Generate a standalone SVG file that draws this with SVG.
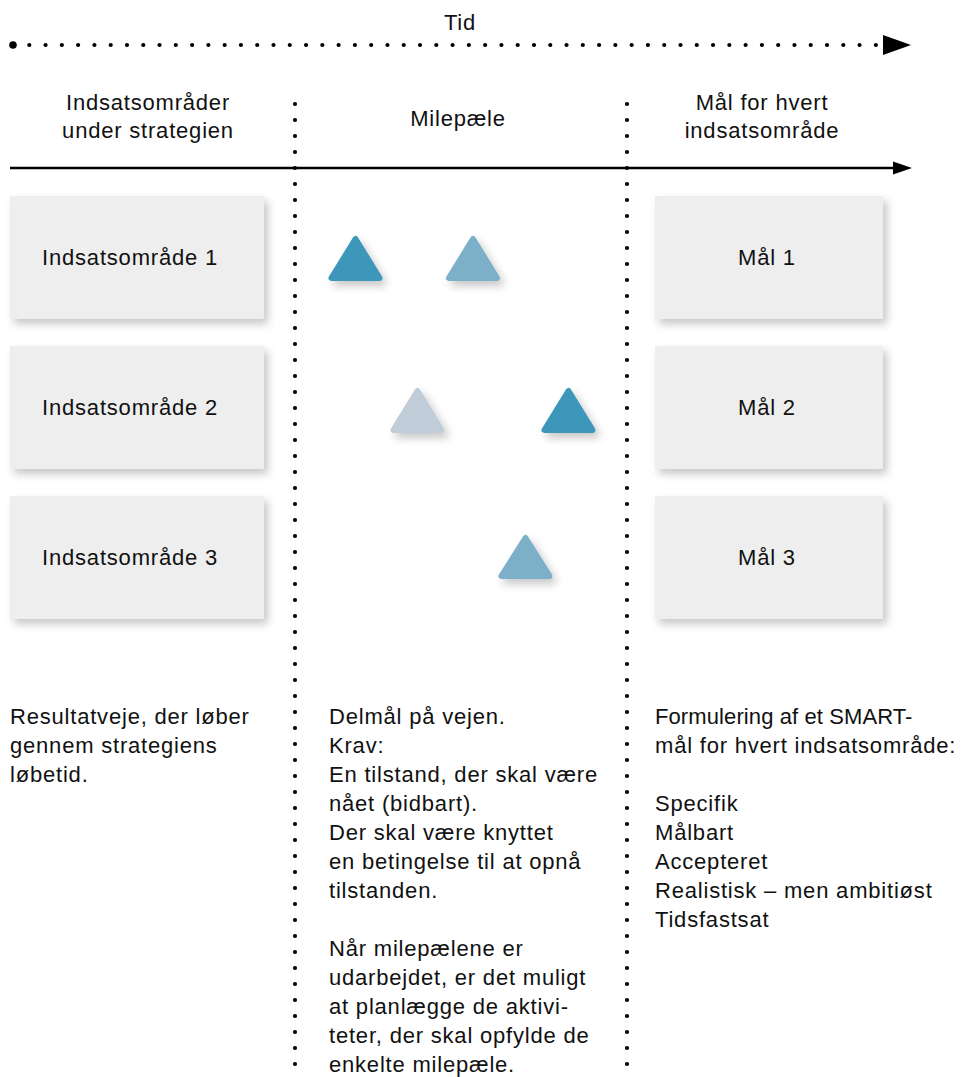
<svg xmlns="http://www.w3.org/2000/svg" width="966" height="1077" viewBox="0 0 966 1077">
<style>
text{font-family:"Liberation Sans",Arial,Helvetica,sans-serif;font-size:22px;fill:#111;letter-spacing:0.8px}
.c{text-anchor:middle}
.box{fill:#eeeeee}
.dots{stroke:#000;stroke-width:4.2;stroke-linecap:round;fill:none}
.tri{stroke-linejoin:round;stroke-width:6}
.t1{fill:#3d97ba;stroke:#3d97ba}
.t2{fill:#7bb0c8;stroke:#7bb0c8}
.t3{fill:#c1ccd9;stroke:#c1ccd9}
</style>
<defs>
<filter id="sh" x="-20%" y="-20%" width="150%" height="160%">
<feDropShadow dx="4" dy="5" stdDeviation="4" flood-color="#000" flood-opacity="0.22"/>
</filter>
</defs>
<rect width="966" height="1077" fill="#fff"/>
<g id="connectors">
<circle cx="13" cy="45" r="3.8" fill="#000"/>
<line class="dots" x1="29.3" y1="45" x2="876" y2="45" stroke-dasharray="0 16.28"/>
<polygon points="883,35 911,45 883,55" fill="#000"/>
<line x1="10" y1="168" x2="896" y2="168" stroke="#000" stroke-width="2.5"/>
<polygon points="893,161.5 912,168 893,174.5" fill="#000"/>
<line class="dots" x1="295" y1="104" x2="295" y2="1080" stroke-dasharray="0 16"/>
<line class="dots" x1="627" y1="104" x2="627" y2="1080" stroke-dasharray="0 16"/>
</g>
<g id="titles">
<text class="c" x="460" y="30">Tid</text>
<text class="c" x="148" y="110">Indsatsområder</text>
<text class="c" x="148" y="138">under strategien</text>
<text class="c" x="458" y="126">Milepæle</text>
<text class="c" x="762" y="110">Mål for hvert</text>
<text class="c" x="762" y="138">indsatsområde</text>
</g>
<g id="area1"><rect class="box" x="10" y="196" width="254" height="123" filter="url(#sh)"/><text class="c" x="130" y="265">Indsatsområde 1</text></g>
<g id="area2"><rect class="box" x="10" y="346" width="254" height="123" filter="url(#sh)"/><text class="c" x="130" y="415">Indsatsområde 2</text></g>
<g id="area3"><rect class="box" x="10" y="496" width="254" height="123" filter="url(#sh)"/><text class="c" x="130" y="565">Indsatsområde 3</text></g>
<g id="goal1"><rect class="box" x="655" y="196" width="228" height="123" filter="url(#sh)"/><text class="c" x="767" y="265">Mål 1</text></g>
<g id="goal2"><rect class="box" x="655" y="346" width="228" height="123" filter="url(#sh)"/><text class="c" x="767" y="415">Mål 2</text></g>
<g id="goal3"><rect class="box" x="655" y="496" width="228" height="123" filter="url(#sh)"/><text class="c" x="767" y="565">Mål 3</text></g>
<g id="milestones">
<polygon class="tri t1" filter="url(#sh)" points="355.5,239 331.5,278 379.5,278"/>
<polygon class="tri t2" filter="url(#sh)" points="473,239 449,278 497,278"/>
<polygon class="tri t3" filter="url(#sh)" points="417.5,391 393.5,430 441.5,430"/>
<polygon class="tri t1" filter="url(#sh)" points="568.5,391 544.5,430 592.5,430"/>
<polygon class="tri t2" filter="url(#sh)" points="525.5,538 501.5,576 549.5,576"/>
</g>
<g id="notes-left">
<text x="10" y="724">Resultatveje, der løber</text>
<text x="10" y="753">gennem strategiens</text>
<text x="10" y="782">løbetid.</text>
</g>
<g id="notes-middle">
<text x="329" y="724">Delmål på vejen.</text>
<text x="329" y="753">Krav:</text>
<text x="329" y="782">En tilstand, der skal være</text>
<text x="329" y="811">nået (bidbart).</text>
<text x="329" y="840">Der skal være knyttet</text>
<text x="329" y="869">en betingelse til at opnå</text>
<text x="329" y="898">tilstanden.</text>
<text x="329" y="956">Når milepælene er</text>
<text x="329" y="985">udarbejdet, er det muligt</text>
<text x="329" y="1014">at planlægge de aktivi-</text>
<text x="329" y="1043">teter, der skal opfylde de</text>
<text x="329" y="1072">enkelte milepæle.</text>
</g>
<g id="notes-right">
<text x="655" y="724" style="letter-spacing:0.1px">Formulering af et SMART-</text>
<text x="655" y="753">mål for hvert indsatsområde:</text>
<text x="655" y="811">Specifik</text>
<text x="655" y="840">Målbart</text>
<text x="655" y="869">Accepteret</text>
<text x="655" y="898">Realistisk – men ambitiøst</text>
<text x="655" y="927">Tidsfastsat</text>
</g>
</svg>
